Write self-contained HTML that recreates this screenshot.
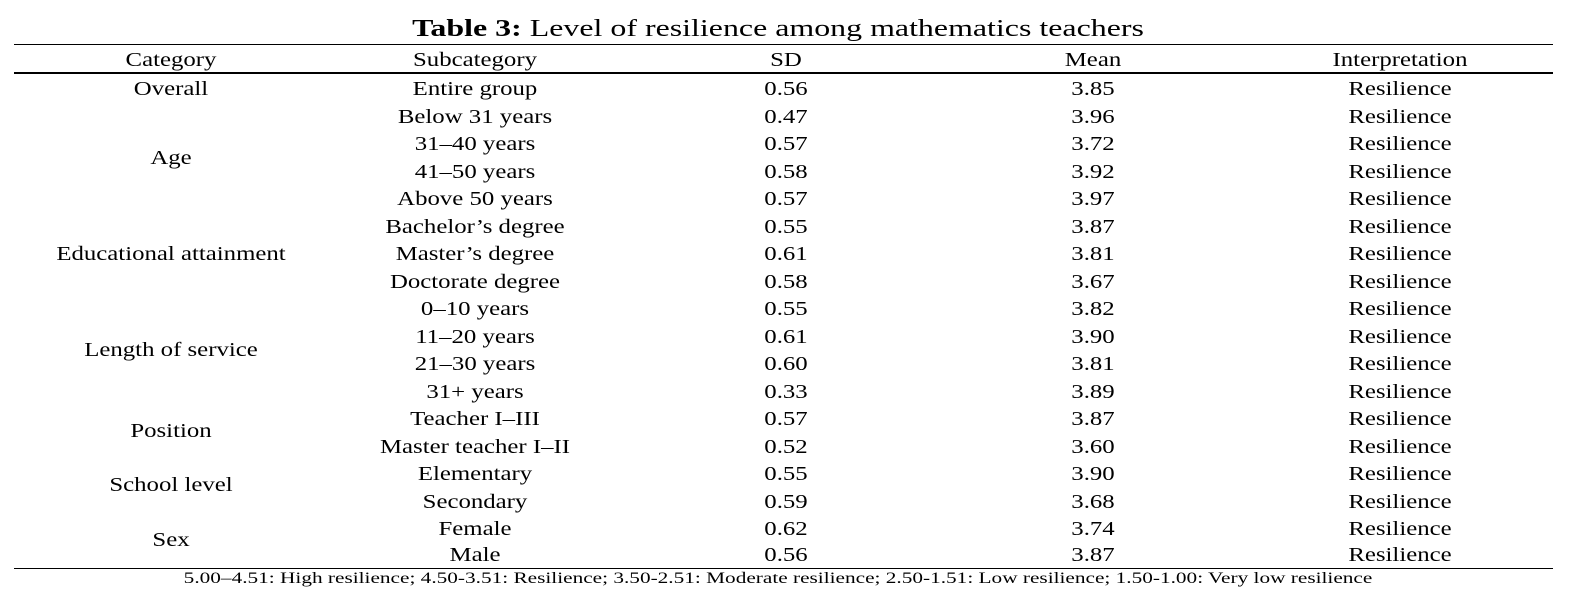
<!DOCTYPE html>
<html><head><meta charset="utf-8"><style>
body{margin:0;width:1579px;height:610px;background:#fff;position:relative;font-family:"Liberation Serif",serif;color:#000;overflow:hidden}
.l{position:absolute;left:14px;width:1539px;height:1.5px;background:#000}
.t{position:absolute;text-align:center;white-space:nowrap;font-size:20px;line-height:27.5px;transform:translateX(-50%) scaleX(1.24);margin-top:2px}
</style></head><body>
<div class="t" style="left:778px;top:13px;font-size:24px;line-height:28px;transform:translateX(-50%) scaleX(1.33)"><b>Table 3:</b> Level of resilience among mathematics teachers</div>
<div class="l" style="top:43.5px"></div>
<div class="l" style="top:72px"></div>
<div class="l" style="top:567.5px"></div>
<div class="t" style="left:171px;top:45px">Category</div>
<div class="t" style="left:475px;top:45px">Subcategory</div>
<div class="t" style="left:786px;top:45px">SD</div>
<div class="t" style="left:1093px;top:45px">Mean</div>
<div class="t" style="left:1400px;top:45px">Interpretation</div>

<div class="t" style="left:171px;top:74px">Overall</div>
<div class="t" style="left:171px;top:142.75px">Age</div>
<div class="t" style="left:171px;top:238.75px">Educational attainment</div>
<div class="t" style="left:171px;top:334.75px">Length of service</div>
<div class="t" style="left:171px;top:416px">Position</div>
<div class="t" style="left:171px;top:470px">School level</div>
<div class="t" style="left:171px;top:525px">Sex</div>

<div class="t" style="left:475px;top:74px">Entire group</div><div class="t" style="left:786px;top:74px">0.56</div><div class="t" style="left:1093px;top:74px">3.85</div><div class="t" style="left:1400px;top:74px">Resilience</div>
<div class="t" style="left:475px;top:101.5px">Below 31 years</div><div class="t" style="left:786px;top:101.5px">0.47</div><div class="t" style="left:1093px;top:101.5px">3.96</div><div class="t" style="left:1400px;top:101.5px">Resilience</div>
<div class="t" style="left:475px;top:129px">31–40 years</div><div class="t" style="left:786px;top:129px">0.57</div><div class="t" style="left:1093px;top:129px">3.72</div><div class="t" style="left:1400px;top:129px">Resilience</div>
<div class="t" style="left:475px;top:156.5px">41–50 years</div><div class="t" style="left:786px;top:156.5px">0.58</div><div class="t" style="left:1093px;top:156.5px">3.92</div><div class="t" style="left:1400px;top:156.5px">Resilience</div>
<div class="t" style="left:475px;top:184px">Above 50 years</div><div class="t" style="left:786px;top:184px">0.57</div><div class="t" style="left:1093px;top:184px">3.97</div><div class="t" style="left:1400px;top:184px">Resilience</div>
<div class="t" style="left:475px;top:211.5px">Bachelor’s degree</div><div class="t" style="left:786px;top:211.5px">0.55</div><div class="t" style="left:1093px;top:211.5px">3.87</div><div class="t" style="left:1400px;top:211.5px">Resilience</div>
<div class="t" style="left:475px;top:239px">Master’s degree</div><div class="t" style="left:786px;top:239px">0.61</div><div class="t" style="left:1093px;top:239px">3.81</div><div class="t" style="left:1400px;top:239px">Resilience</div>
<div class="t" style="left:475px;top:266.5px">Doctorate degree</div><div class="t" style="left:786px;top:266.5px">0.58</div><div class="t" style="left:1093px;top:266.5px">3.67</div><div class="t" style="left:1400px;top:266.5px">Resilience</div>
<div class="t" style="left:475px;top:294px">0–10 years</div><div class="t" style="left:786px;top:294px">0.55</div><div class="t" style="left:1093px;top:294px">3.82</div><div class="t" style="left:1400px;top:294px">Resilience</div>
<div class="t" style="left:475px;top:321.5px">11–20 years</div><div class="t" style="left:786px;top:321.5px">0.61</div><div class="t" style="left:1093px;top:321.5px">3.90</div><div class="t" style="left:1400px;top:321.5px">Resilience</div>
<div class="t" style="left:475px;top:349px">21–30 years</div><div class="t" style="left:786px;top:349px">0.60</div><div class="t" style="left:1093px;top:349px">3.81</div><div class="t" style="left:1400px;top:349px">Resilience</div>
<div class="t" style="left:475px;top:376.5px">31+ years</div><div class="t" style="left:786px;top:376.5px">0.33</div><div class="t" style="left:1093px;top:376.5px">3.89</div><div class="t" style="left:1400px;top:376.5px">Resilience</div>
<div class="t" style="left:475px;top:404px">Teacher I–III</div><div class="t" style="left:786px;top:404px">0.57</div><div class="t" style="left:1093px;top:404px">3.87</div><div class="t" style="left:1400px;top:404px">Resilience</div>
<div class="t" style="left:475px;top:431.5px">Master teacher I–II</div><div class="t" style="left:786px;top:431.5px">0.52</div><div class="t" style="left:1093px;top:431.5px">3.60</div><div class="t" style="left:1400px;top:431.5px">Resilience</div>
<div class="t" style="left:475px;top:459px">Elementary</div><div class="t" style="left:786px;top:459px">0.55</div><div class="t" style="left:1093px;top:459px">3.90</div><div class="t" style="left:1400px;top:459px">Resilience</div>
<div class="t" style="left:475px;top:486.5px">Secondary</div><div class="t" style="left:786px;top:486.5px">0.59</div><div class="t" style="left:1093px;top:486.5px">3.68</div><div class="t" style="left:1400px;top:486.5px">Resilience</div>
<div class="t" style="left:475px;top:514px">Female</div><div class="t" style="left:786px;top:514px">0.62</div><div class="t" style="left:1093px;top:514px">3.74</div><div class="t" style="left:1400px;top:514px">Resilience</div>
<div class="t" style="left:475px;top:540px">Male</div><div class="t" style="left:786px;top:540px">0.56</div><div class="t" style="left:1093px;top:540px">3.87</div><div class="t" style="left:1400px;top:540px">Resilience</div>

<div class="t" style="left:778px;top:566px;font-size:16px;line-height:22px;transform:translateX(-50%) scaleX(1.33)">5.00–4.51: High resilience; 4.50-3.51: Resilience; 3.50-2.51: Moderate resilience; 2.50-1.51: Low resilience; 1.50-1.00: Very low resilience</div>
</body></html>
